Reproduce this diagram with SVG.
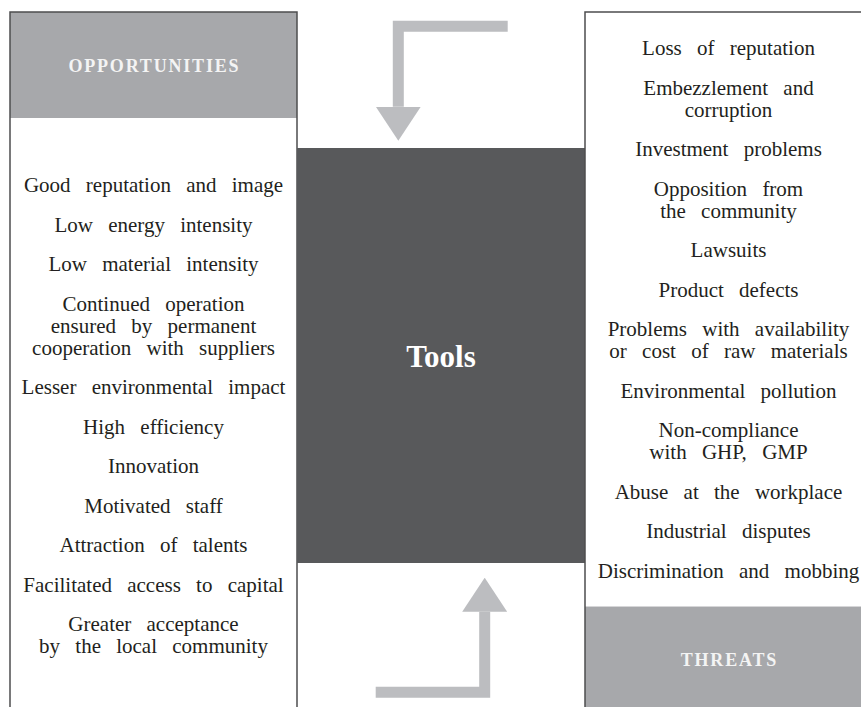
<svg xmlns="http://www.w3.org/2000/svg" width="861" height="707" viewBox="0 0 861 707">
  <style>
    .frame { fill: none; stroke: #4d4d4f; stroke-width: 1.5; }
    .head { fill: #a7a8ab; }
    .item { font-size: 21px; fill: #231f20; text-anchor: middle; }
    .title { font-size: 18px; font-weight: bold; fill: #f4f4f4; text-anchor: middle; }
    .flow { fill: none; stroke: #bcbdc0; stroke-width: 11; stroke-linejoin: miter; stroke-linecap: butt; }
  </style>
  <defs>
    <marker id="tip" viewBox="0 0 34 45" markerWidth="34" markerHeight="45" refX="0" refY="22.5" orient="auto" markerUnits="userSpaceOnUse">
      <path d="M0,0 L34,22.5 L0,45 Z" fill="#bcbdc0"/>
    </marker>
  </defs>

  <rect width="861" height="707" fill="#ffffff"/>

  <!-- Opportunities column (word gaps widened with dx on each following word) -->
  <g id="opportunities" font-family="'Liberation Serif', 'Times New Roman', serif">
    <rect class="head" x="10" y="12" width="287" height="106"/>
    <path class="frame" d="M10,707 V12 H297 V707"/>
    <text class="title" x="153.5" y="72" dx="0 1.8 1.8 1.8 1.8 1.8 1.8 1.8 1.8 1.8 1.8 1.8 1.8">OPPORTUNITIES</text>
    <text class="item" x="153.5" y="192">Good<tspan dx="10"> reputation</tspan><tspan dx="10"> and</tspan><tspan dx="10"> image</tspan></text>
    <text class="item" x="153.5" y="231.5">Low<tspan dx="10"> energy</tspan><tspan dx="10"> intensity</tspan></text>
    <text class="item" x="153.5" y="271">Low<tspan dx="10"> material</tspan><tspan dx="10"> intensity</tspan></text>
    <text class="item" x="153.5" y="310.5">Continued<tspan dx="10"> operation</tspan></text>
    <text class="item" x="153.5" y="332.5">ensured<tspan dx="10"> by</tspan><tspan dx="10"> permanent</tspan></text>
    <text class="item" x="153.5" y="354.5">cooperation<tspan dx="10"> with</tspan><tspan dx="10"> suppliers</tspan></text>
    <text class="item" x="153.5" y="394">Lesser<tspan dx="10"> environmental</tspan><tspan dx="10"> impact</tspan></text>
    <text class="item" x="153.5" y="433.5">High<tspan dx="10"> efficiency</tspan></text>
    <text class="item" x="153.5" y="473">Innovation</text>
    <text class="item" x="153.5" y="512.5">Motivated<tspan dx="10"> staff</tspan></text>
    <text class="item" x="153.5" y="552">Attraction<tspan dx="10"> of</tspan><tspan dx="10"> talents</tspan></text>
    <text class="item" x="153.5" y="591.5">Facilitated<tspan dx="10"> access</tspan><tspan dx="10"> to</tspan><tspan dx="10"> capital</tspan></text>
    <text class="item" x="153.5" y="631">Greater<tspan dx="10"> acceptance</tspan></text>
    <text class="item" x="153.5" y="653">by<tspan dx="10"> the</tspan><tspan dx="10"> local</tspan><tspan dx="10"> community</tspan></text>
  </g>

  <!-- Central tools block -->
  <g id="tools" font-family="'Liberation Serif', 'Times New Roman', serif">
    <rect x="297" y="148" width="288" height="415" fill="#58595b"/>
    <text x="441" y="367" font-size="31" font-weight="bold" fill="#ffffff" text-anchor="middle">Tools</text>
  </g>

  <!-- Threats column -->
  <g id="threats" font-family="'Liberation Serif', 'Times New Roman', serif">
    <rect class="head" x="585" y="607" width="290" height="100"/>
    <line x1="585" y1="606.5" x2="861" y2="606.5" stroke="#d6d6d8" stroke-width="1"/>
    <path class="frame" d="M585,707 V12 H875"/>
    <text class="title" x="728.5" y="666" dx="0 1.8 1.8 1.8 1.8 1.8 1.8">THREATS</text>
    <text class="item" x="728.5" y="55">Loss<tspan dx="10"> of</tspan><tspan dx="10"> reputation</tspan></text>
    <text class="item" x="728.5" y="94.5">Embezzlement<tspan dx="10"> and</tspan></text>
    <text class="item" x="728.5" y="116.5">corruption</text>
    <text class="item" x="728.5" y="156">Investment<tspan dx="10"> problems</tspan></text>
    <text class="item" x="728.5" y="195.5">Opposition<tspan dx="10"> from</tspan></text>
    <text class="item" x="728.5" y="217.5">the<tspan dx="10"> community</tspan></text>
    <text class="item" x="728.5" y="257">Lawsuits</text>
    <text class="item" x="728.5" y="296.5">Product<tspan dx="10"> defects</tspan></text>
    <text class="item" x="728.5" y="336">Problems<tspan dx="10"> with</tspan><tspan dx="10"> availability</tspan></text>
    <text class="item" x="728.5" y="358">or<tspan dx="10"> cost</tspan><tspan dx="10"> of</tspan><tspan dx="10"> raw</tspan><tspan dx="10"> materials</tspan></text>
    <text class="item" x="728.5" y="397.5">Environmental<tspan dx="10"> pollution</tspan></text>
    <text class="item" x="728.5" y="437">Non-compliance</text>
    <text class="item" x="728.5" y="459">with<tspan dx="10"> GHP,</tspan><tspan dx="10"> GMP</tspan></text>
    <text class="item" x="728.5" y="498.5">Abuse<tspan dx="10"> at</tspan><tspan dx="10"> the</tspan><tspan dx="10"> workplace</tspan></text>
    <text class="item" x="728.5" y="538">Industrial<tspan dx="10"> disputes</tspan></text>
    <text class="item" x="728.5" y="577.5">Discrimination<tspan dx="10"> and</tspan><tspan dx="10"> mobbing</tspan></text>
  </g>

  <!-- Connectors: bent arrows into and out of the tools block -->
  <g id="connectors">
    <path class="flow" d="M507.7,26.2 H398.3 V106.7" marker-end="url(#tip)"/>
    <path class="flow" d="M375.7,692.2 H484.7 V611.7" marker-end="url(#tip)"/>
  </g>
</svg>
